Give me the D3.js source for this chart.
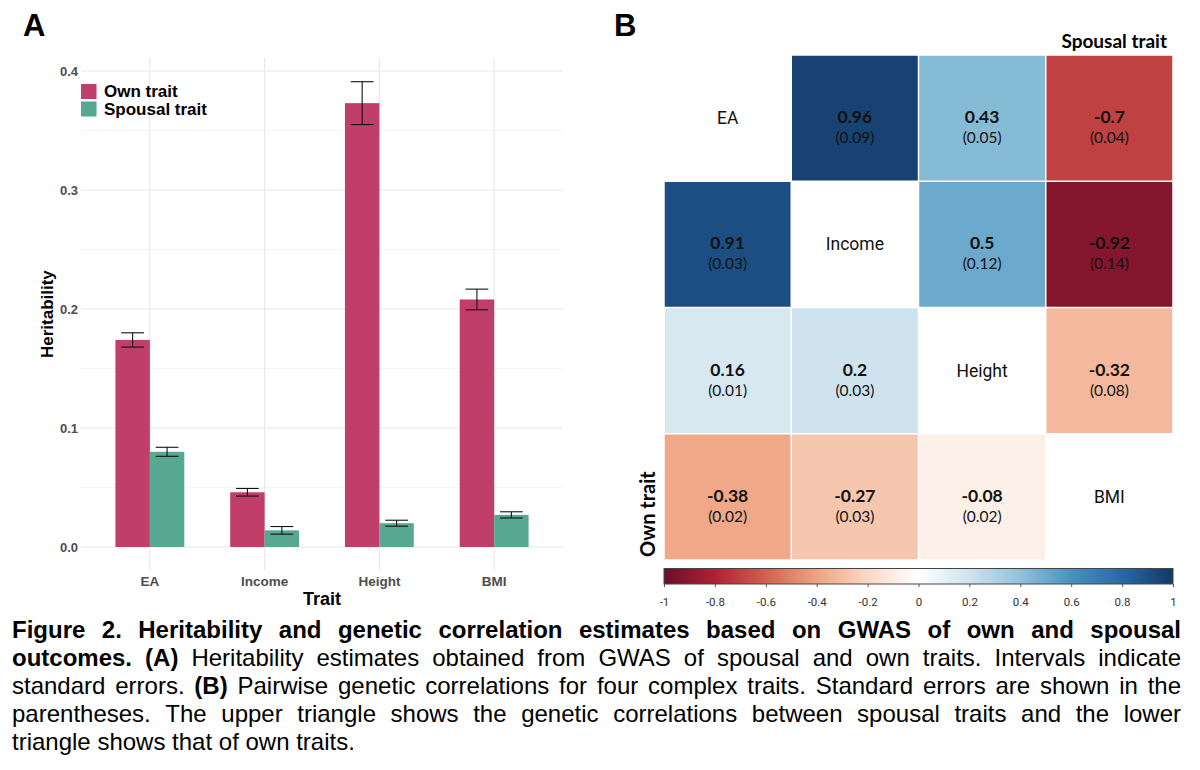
<!DOCTYPE html>
<html>
<head>
<meta charset="utf-8">
<script src="https://cdn.jsdelivr.net/npm/d3@7"></script>
<style>
  body { margin: 0; background: #fff; }
  svg { display: block; }
</style>
</head>
<body>
<svg id="fig" width="1200" height="770"></svg>
<script>
// ---- panel A: heritability ----
let traits   = ["EA", "Income", "Height", "BMI"];
let ownH     = [0.174, 0.046, 0.373, 0.208];
let ownSE    = [0.006, 0.0032, 0.018, 0.0087];
let spouseH  = [0.080, 0.014, 0.020, 0.027];
let spouseSE = [0.0038, 0.0032, 0.0025, 0.0026];
let hTicks   = [0, 0.1, 0.2, 0.3, 0.4];
let hMinor   = [0.05, 0.15, 0.25, 0.35];
let seriesNames = ["Own trait", "Spousal trait"];
let seriesColors = ["#c13e6b", "#56a891"];

// ---- panel B: genetic correlations (upper = spousal, lower = own) ----
let rgValues = [
  [null, 0.96, 0.43, -0.7],
  [0.91, null, 0.5, -0.92],
  [0.16, 0.2, null, -0.32],
  [-0.38, -0.27, -0.08, null]
];
let rgSE = [
  [null, 0.09, 0.05, 0.04],
  [0.03, null, 0.12, 0.14],
  [0.01, 0.03, null, 0.08],
  [0.02, 0.03, 0.02, null]
];
let colorTicks = [-1, -0.8, -0.6, -0.4, -0.2, 0, 0.2, 0.4, 0.6, 0.8, 1];
let rdbu = ["#67001f", "#b2182b", "#d6604d", "#f4a582", "#fddbc7", "#ffffff",
            "#d1e5f0", "#92c5de", "#4393c3", "#2166ac", "#053061"];

// ---- caption ----
let captionLines = [
  [["Figure 2. Heritability and genetic correlation estimates based on GWAS of own and spousal", 1]],
  [["outcomes. (A)", 1], ["Heritability estimates obtained from GWAS of spousal and own traits. Intervals indicate", 0]],
  [["standard errors.", 0], ["(B)", 1], ["Pairwise genetic correlations for four complex traits. Standard errors are shown in the", 0]],
  [["parentheses. The upper triangle shows the genetic correlations between spousal traits and the lower", 0]],
  [["triangle shows that of own traits.", 0]]
];

let svg = d3.select("#fig");
let sans = "'Liberation Sans', Arial, Helvetica, sans-serif";

// panel letters
svg.append("text").attr("x", 23).attr("y", 36).text("A")
  .attr("font-family", sans).attr("font-weight", "bold").attr("font-size", 31);
svg.append("text").attr("x", 614).attr("y", 36).text("B")
  .attr("font-family", sans).attr("font-weight", "bold").attr("font-size", 31);

// ================= bar chart =================
let x = d3.scaleBand().domain(traits).range([81, 563]).paddingInner(0).paddingOuter(0.1);
let xSub = d3.scaleBand().domain([0, 1]).range([x.step() * 0.2, x.step() * 0.8]);
let y = d3.scaleLinear().domain([0, 0.4]).range([547, 71]);
let panelTop = y(0.411), panelBottom = y(-0.0196);

let gA = svg.append("g");

gA.selectAll(".minor").data(hMinor).enter().append("line")
  .attr("x1", 81).attr("x2", 563)
  .attr("y1", d => y(d)).attr("y2", d => y(d))
  .attr("stroke", "#f2f2f2").attr("stroke-width", 0.8);
gA.selectAll(".major").data(hTicks).enter().append("line")
  .attr("x1", 81).attr("x2", 563)
  .attr("y1", d => y(d)).attr("y2", d => y(d))
  .attr("stroke", "#e8e8e8").attr("stroke-width", 1.1);
gA.selectAll(".vgrid").data(traits).enter().append("line")
  .attr("x1", d => x(d) + x.bandwidth() / 2).attr("x2", d => x(d) + x.bandwidth() / 2)
  .attr("y1", panelTop).attr("y2", panelBottom)
  .attr("stroke", "#e8e8e8").attr("stroke-width", 1.1);

let barData = [];
traits.forEach((t, i) => {
  barData.push({ trait: t, s: 0, v: ownH[i], se: ownSE[i] });
  barData.push({ trait: t, s: 1, v: spouseH[i], se: spouseSE[i] });
});

gA.selectAll(".bar").data(barData).enter().append("rect")
  .attr("x", d => x(d.trait) + xSub(d.s))
  .attr("width", xSub.bandwidth())
  .attr("y", d => y(d.v))
  .attr("height", d => y(0) - y(d.v))
  .attr("fill", d => seriesColors[d.s]);

let capW = xSub.bandwidth() * 0.33;
let eb = gA.selectAll(".err").data(barData).enter().append("g")
  .attr("transform", d => `translate(${x(d.trait) + xSub(d.s) + xSub.bandwidth() / 2},0)`)
  .attr("stroke", "#111").attr("stroke-width", 1.1);
eb.append("line").attr("x1", 0).attr("x2", 0)
  .attr("y1", d => y(d.v + d.se)).attr("y2", d => y(d.v - d.se));
eb.append("line").attr("x1", -capW).attr("x2", capW)
  .attr("y1", d => y(d.v + d.se)).attr("y2", d => y(d.v + d.se));
eb.append("line").attr("x1", -capW).attr("x2", capW)
  .attr("y1", d => y(d.v - d.se)).attr("y2", d => y(d.v - d.se));

// axes
let yAxis = gA.append("g").attr("transform", "translate(81,0)")
  .call(d3.axisLeft(y).tickValues(hTicks).tickSize(0).tickPadding(3).tickFormat(d3.format(".1f")));
yAxis.select(".domain").remove();
yAxis.selectAll("text").attr("font-family", sans).attr("font-weight", "bold")
  .attr("font-size", 13).attr("fill", "#4d4d4d");

let xAxis = gA.append("g").attr("transform", `translate(0,${panelBottom})`)
  .call(d3.axisBottom(x).tickSize(0).tickPadding(6));
xAxis.select(".domain").remove();
xAxis.selectAll("text").attr("font-family", sans).attr("font-weight", "bold")
  .attr("font-size", 13.5).attr("fill", "#4d4d4d");

gA.append("text").attr("x", 322).attr("y", 605).attr("text-anchor", "middle")
  .attr("font-family", sans).attr("font-weight", "bold").attr("font-size", 18).text("Trait");
gA.append("text").attr("transform", `translate(53,${(panelTop + panelBottom) / 2}) rotate(-90)`)
  .attr("text-anchor", "middle")
  .attr("font-family", sans).attr("font-weight", "bold").attr("font-size", 17).text("Heritability");

// legend
let leg = gA.selectAll(".leg").data(seriesNames).enter().append("g")
  .attr("transform", (d, i) => `translate(81,${84 + i * 17.5})`);
leg.append("rect").attr("width", 15.5).attr("height", 15).attr("fill", (d, i) => seriesColors[i]);
leg.append("text").attr("x", 23).attr("y", 13).text(d => d)
  .attr("font-family", sans).attr("font-weight", "bold").attr("font-size", 17);

// ================= correlation grid =================
let cellFont = "Lato, 'Noto Sans', sans-serif";
let idx = d3.range(traits.length);
let gx = d3.scaleBand().domain(idx).range([664, 1173]);
let gy = d3.scaleBand().domain(idx).range([55, 560]);
let rawColor = d3.scaleLinear().domain(colorTicks).range(rdbu).interpolate(d3.interpolateRgb);
// the printed figure is a little muted towards the strong ends
let color = v => d3.interpolateRgb(rawColor(v), "#808080")(0.11 * Math.abs(v));

let cells = [];
idx.forEach(r => idx.forEach(c => cells.push({ r, c, v: rgValues[r][c], se: rgSE[r][c] })));

let gB = svg.append("g");
let cg = gB.selectAll(".cell").data(cells).enter().append("g")
  .attr("transform", d => `translate(${gx(d.c)},${gy(d.r)})`);
cg.filter(d => d.v !== null).append("rect")
  .attr("x", 0.75).attr("y", 0.75)
  .attr("width", gx.bandwidth() - 1.5).attr("height", gy.bandwidth() - 1.5)
  .attr("fill", d => color(d.v));
cg.filter(d => d.v !== null).append("text")
  .attr("x", gx.bandwidth() / 2).attr("y", gy.bandwidth() / 2 + 5)
  .attr("text-anchor", "middle").attr("font-family", cellFont)
  .attr("font-weight", "bold").attr("font-size", 17.5).attr("fill", "#111")
  .text(d => String(d.v));
cg.filter(d => d.v !== null).append("text")
  .attr("x", gx.bandwidth() / 2).attr("y", gy.bandwidth() / 2 + 25)
  .attr("text-anchor", "middle").attr("font-family", cellFont)
  .attr("font-size", 15.5).attr("fill", "#111")
  .text(d => "(" + d.se.toFixed(2) + ")");
cg.filter(d => d.v === null).append("text")
  .attr("x", gx.bandwidth() / 2).attr("y", gy.bandwidth() / 2 + 6)
  .attr("text-anchor", "middle").attr("font-family", "Roboto, sans-serif")
  .attr("font-size", 17.5).attr("fill", "#111")
  .text(d => traits[d.r]);

gB.append("text").attr("x", 1167).attr("y", 48).attr("text-anchor", "end")
  .attr("font-family", cellFont).attr("font-weight", "bold").attr("font-size", 19)
  .text("Spousal trait");
gB.append("text").attr("transform", "translate(655,557) rotate(-90)")
  .attr("font-family", cellFont).attr("font-weight", "bold").attr("font-size", 20)
  .text("Own trait");

// colour bar
let cScale = d3.scaleLinear().domain([-1, 1]).range([664, 1173]);
let grad = svg.append("defs").append("linearGradient").attr("id", "rdbu")
  .attr("x1", "0%").attr("x2", "100%").attr("y1", "0%").attr("y2", "0%");
grad.selectAll("stop").data(d3.range(-1, 1.0001, 0.05)).enter().append("stop")
  .attr("offset", d => ((d + 1) / 2 * 100) + "%")
  .attr("stop-color", d => color(d));
gB.append("rect").attr("x", cScale(-1)).attr("y", 568.5)
  .attr("width", cScale(1) - cScale(-1)).attr("height", 15.5)
  .attr("fill", "url(#rdbu)").attr("stroke", "#444").attr("stroke-width", 1);
let cAxis = gB.append("g").attr("transform", "translate(0,584)")
  .call(d3.axisBottom(cScale).tickValues(colorTicks).tickSize(3).tickPadding(11)
    .tickFormat(d => String(+d.toFixed(1))));
cAxis.select(".domain").remove();
cAxis.selectAll("line").attr("stroke", "#555");
cAxis.selectAll("text").attr("font-family", "Roboto, sans-serif").attr("font-size", 11.5).attr("fill", "#333");

// ================= caption (justified) =================
let capSize = 24, capLeft = 12, capRight = 1181, capTop = 638, capStep = 28;
let meas = svg.append("text").attr("font-family", sans).attr("font-size", capSize);
function wordWidth(w, b) {
  meas.attr("font-weight", b ? "bold" : "normal").text(w);
  return meas.node().getComputedTextLength();
}
let capG = svg.append("g").attr("font-family", sans).attr("font-size", capSize).attr("fill", "#000");
captionLines.forEach((segs, li) => {
  let words = [];
  segs.forEach(([t, b]) => t.split(" ").forEach(w => words.push({ w, b, wd: wordWidth(w, b) })));
  let total = d3.sum(words, d => d.wd);
  let justify = li < captionLines.length - 1;
  let gap = justify ? (capRight - capLeft - total) / (words.length - 1) : capSize * 0.278;
  let cx = capLeft;
  words.forEach(d => {
    capG.append("text").attr("x", cx).attr("y", capTop + li * capStep)
      .attr("font-weight", d.b ? "bold" : "normal").text(d.w);
    cx += d.wd + gap;
  });
});
meas.remove();
</script>
</body>
</html>
